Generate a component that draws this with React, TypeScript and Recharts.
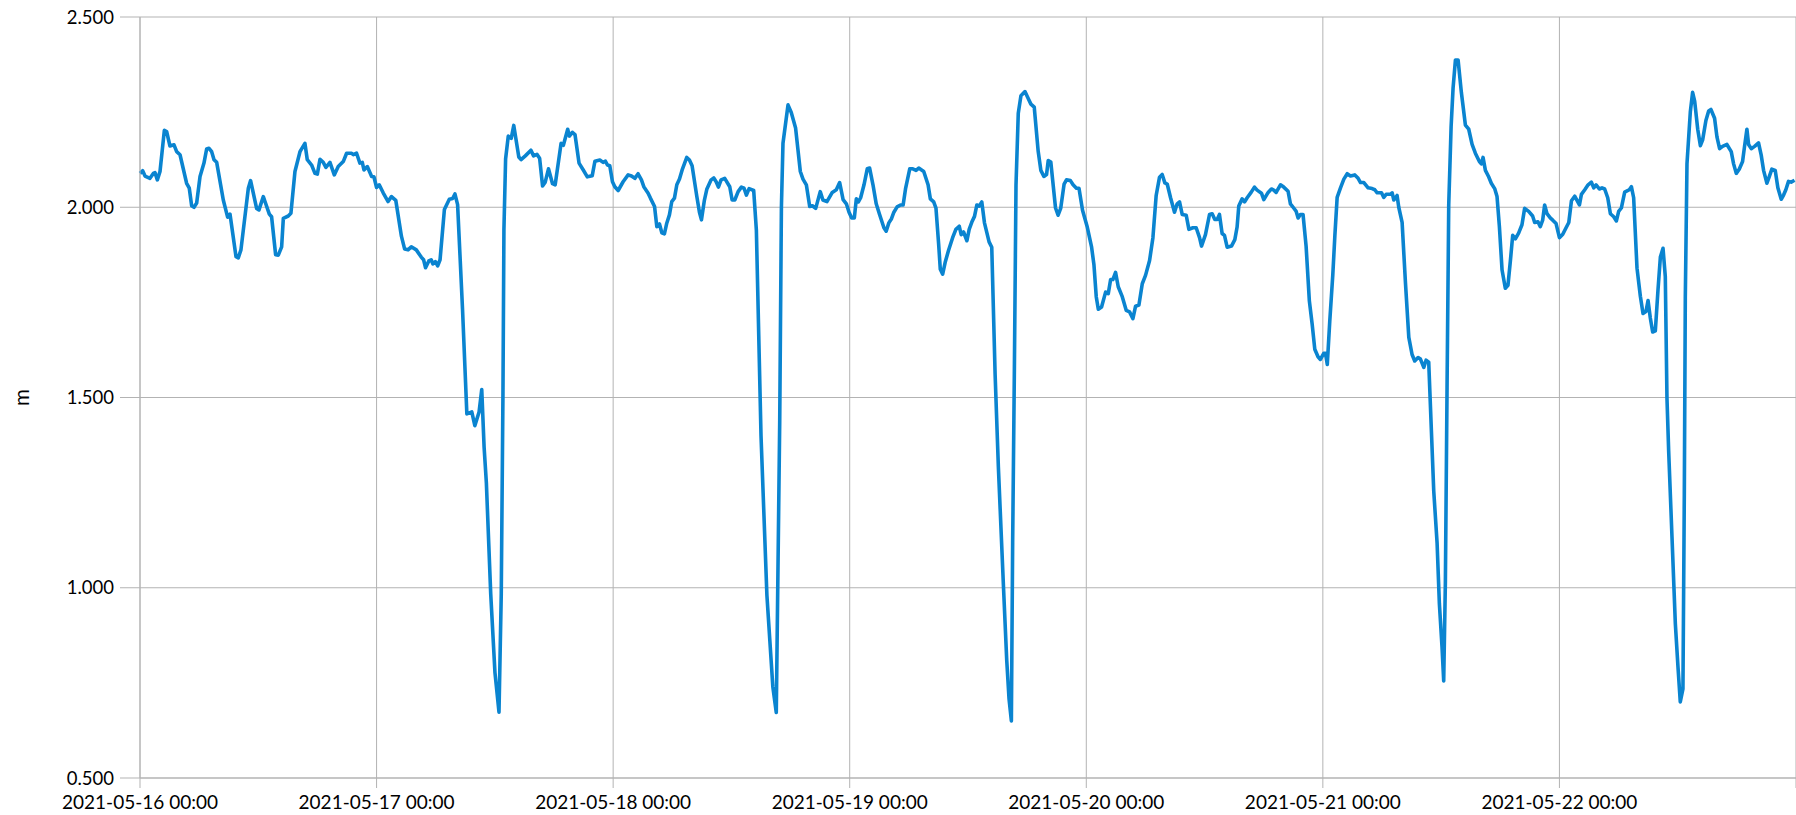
import React from 'react';
import { LineChart, Line, XAxis, YAxis, CartesianGrid } from 'recharts';

// hours since 2021-05-16 00:00
const hours = [
  0, 0.27, 0.51, 1.01, 1.35, 1.52, 1.76, 2.03, 2.47, 2.7, 3.04, 3.45, 3.72, 4.06, 4.73, 5.0, 5.24, 5.48, 5.75, 6.09,
  6.49, 6.76, 7.0, 7.27, 7.51, 7.78, 8.45, 8.89, 9.13, 9.74, 9.97, 10.24, 10.99, 11.22, 11.83, 12.07, 12.51, 12.68, 13.12, 13.35,
  13.76, 14.03, 14.37, 14.54, 15.04, 15.31, 15.72, 16.23, 16.73, 16.97, 17.41, 17.75, 17.99, 18.26, 18.59, 18.86, 19.27, 19.71, 20.11, 20.62,
  20.96, 21.47, 21.64, 21.97, 22.31, 22.55, 22.72, 23.06, 23.5, 23.73,
  24.0, 24.27, 24.67, 25.17, 25.51, 25.95, 26.52, 26.85, 27.19, 27.52, 28.03, 28.53, 28.77, 28.97, 29.3, 29.54, 29.71, 29.97, 30.2, 30.44,
  30.88, 31.38, 31.72, 31.95, 32.22, 32.72, 33.16, 33.66, 33.97, 34.4, 34.67, 34.91, 35.14, 35.58, 36.01, 36.42, 36.65, 36.82, 36.92, 37.09,
  37.36, 37.66, 37.92, 38.43, 38.66, 39.09, 39.66, 39.93, 40.27, 40.54, 40.84, 41.11, 41.44, 41.85, 42.12, 42.72, 42.95, 43.39, 43.56, 43.86,
  44.13, 44.54, 44.97, 45.38, 45.88, 46.15, 46.65, 46.98, 47.22, 47.42, 47.66,
  47.93, 48.17, 48.51, 49.01, 49.52, 49.86, 50.2, 50.53, 50.87, 51.11, 51.55, 51.78, 52.2, 52.43, 52.7, 52.94, 53.2, 53.44, 53.71, 53.95,
  54.22, 54.46, 54.73, 55.0, 55.47, 55.74, 56.01, 56.49, 56.76, 56.96, 57.26, 57.5, 57.94, 58.21, 58.45, 58.68, 58.95, 59.32, 59.83, 60.07,
  60.34, 60.68, 61.01, 61.28, 61.52, 61.79, 62.26, 62.53, 63.0, 63.6, 64.2, 64.55, 64.9, 65.07, 65.23, 65.74, 66.07, 66.51, 66.99, 67.26,
  67.6, 67.94, 68.21, 68.55, 69.01, 69.28, 69.69, 70.23, 70.64, 70.98,
  71.33, 71.66, 71.93, 72.2, 72.47, 72.67, 72.88, 73.11, 73.45, 73.78, 74.02, 74.36, 74.69, 75.03, 75.47, 75.7, 75.97, 76.24, 76.48, 76.81,
  77.15, 77.42, 77.66, 78.09, 78.4, 78.73, 79.0, 79.51, 79.95, 80.18, 80.52, 80.75, 81.02, 81.19, 81.43, 81.7, 82.03, 82.44, 82.77, 83.11,
  83.31, 83.55, 83.89, 84.12, 84.39, 84.66, 84.9, 85.13, 85.4, 85.67, 86.14, 86.41, 86.75, 87.08, 87.59, 87.93, 88.16, 88.4, 88.53, 88.7,
  88.87, 89.1, 89.37, 89.78, 90.05, 90.38, 90.72, 91.12, 91.39, 91.7, 91.97, 92.14, 92.4, 92.88, 93.14, 93.41, 93.75, 93.99, 94.39, 94.66,
  95.0, 95.26, 95.62,
  96.1, 96.54, 96.78, 97.01, 97.22, 97.55, 97.96, 98.23, 98.47, 98.7, 98.97, 99.24, 99.65, 100.05, 100.39, 100.73, 101.0, 101.34, 101.68, 102.01,
  102.42, 102.76, 103.09, 103.43, 103.7, 103.97, 104.21, 104.55, 104.95, 105.22, 105.46, 105.73, 106.14, 106.41, 106.81, 107.15, 107.49, 107.69, 108.09, 108.5,
  108.77, 109.04, 109.28, 109.51, 109.78, 110.02, 110.29, 110.73, 111.07, 111.3, 111.47, 111.81, 112.05, 112.32, 112.72, 113.06, 113.33, 113.77, 114.01, 114.45,
  114.78, 115.02, 115.26, 115.7, 116.03, 116.47, 116.71, 117.04, 117.28, 117.49, 117.72, 117.99, 118.3, 118.63, 118.91, 119.18, 119.51, 119.75,
  120.09, 120.27, 120.45, 120.7, 121.01, 121.22, 121.45, 121.79, 122.13, 122.47, 122.8, 123.24, 123.58, 123.82, 124.16, 124.59, 125.0, 125.27, 125.51, 125.95,
  126.18, 126.42, 126.86, 127.03, 127.2, 127.53, 127.7, 128.04, 128.38, 128.72, 129.05, 129.32, 129.66, 129.9, 130.24, 130.47, 130.74, 131.01, 131.25, 131.59,
  131.82, 132.09, 132.26, 132.43, 132.6, 132.77, 133.01, 133.21, 133.45, 133.72, 134.05, 134.46, 134.8, 135.14, 135.47, 135.88, 136.08, 136.25, 136.49, 136.82,
  137.09, 137.43, 137.67, 137.91, 138.18, 138.51, 138.78, 139.02, 139.26, 139.53, 139.86, 140.2, 140.47, 140.88, 141.28, 141.49, 141.82, 142.06, 142.3, 142.5,
  142.74, 143.07, 143.32, 143.66,
  144.0, 144.34, 144.61, 144.95, 145.22, 145.55, 146.03, 146.23, 146.57, 146.91, 147.24, 147.48, 147.72, 148.05, 148.32, 148.59, 148.9, 149.17, 149.51, 149.78,
  150.01, 150.28, 150.62, 150.86, 151.09, 151.3, 151.53, 151.87, 152.21, 152.48, 152.78, 152.99, 153.22, 153.46, 153.73, 154.0, 154.24, 154.51, 154.74, 154.91,
  155.08, 155.42, 155.76, 156.03, 156.26, 156.53, 156.67, 156.77, 156.94, 157.28, 157.51, 157.72, 158.03, 158.3, 158.53, 158.86, 159.14, 159.37, 159.74, 159.98,
  160.25, 160.55, 160.99, 161.43, 161.67, 161.94, 162.24, 162.58, 162.78, 163.02, 163.19, 163.46, 163.8, 164.2, 164.47, 164.71, 165.05, 165.28, 165.55, 165.89,
  166.16, 166.5, 166.74, 166.97, 167.24, 167.51, 167.85,
];

// water level, m
const level = [
  2.089, 2.096, 2.082, 2.076, 2.089, 2.091, 2.072, 2.094, 2.202, 2.199, 2.161, 2.164, 2.146, 2.138, 2.063, 2.05, 2.004, 2.0, 2.011, 2.081,
  2.116, 2.153, 2.155, 2.146, 2.125, 2.118, 2.019, 1.974, 1.982, 1.87, 1.867, 1.888, 2.05, 2.07, 1.997, 1.993, 2.028, 2.015, 1.982, 1.975,
  1.875, 1.874, 1.896, 1.971, 1.977, 1.984, 2.094, 2.146, 2.168, 2.125, 2.111, 2.089, 2.087, 2.126, 2.118, 2.105, 2.118, 2.085, 2.107, 2.12,
  2.142, 2.142, 2.138, 2.142, 2.116, 2.118, 2.098, 2.107, 2.081, 2.08,
  2.052, 2.059, 2.038, 2.015, 2.028, 2.018, 1.924, 1.89, 1.888, 1.896, 1.888, 1.869, 1.862, 1.841, 1.859, 1.862, 1.851, 1.857, 1.846, 1.862,
  1.994, 2.021, 2.023, 2.035, 2.007, 1.732, 1.457, 1.462, 1.426, 1.462, 1.521, 1.369, 1.275, 0.984, 0.777, 0.673, 0.984, 1.504, 1.94, 2.127,
  2.187, 2.181, 2.215, 2.132, 2.125, 2.135, 2.15, 2.135, 2.139, 2.129, 2.056, 2.066, 2.101, 2.062, 2.059, 2.168, 2.163, 2.205, 2.187, 2.197,
  2.191, 2.116, 2.098, 2.08, 2.083, 2.121, 2.124, 2.118, 2.121, 2.111, 2.109,
  2.067, 2.054, 2.044, 2.067, 2.085, 2.082, 2.076, 2.088, 2.072, 2.054, 2.037, 2.024, 2.002, 1.949, 1.956, 1.933, 1.93, 1.958, 1.98, 2.015,
  2.024, 2.059, 2.074, 2.098, 2.131, 2.124, 2.109, 2.028, 1.986, 1.967, 2.019, 2.047, 2.072, 2.077, 2.067, 2.053, 2.072, 2.076, 2.054, 2.019,
  2.019, 2.041, 2.053, 2.05, 2.032, 2.049, 2.044, 1.94, 1.4, 0.98, 0.74, 0.672, 1.44, 2.0, 2.168, 2.269, 2.249, 2.208, 2.094, 2.074,
  2.059, 2.002, 2.004, 1.997, 2.041, 2.019, 2.015, 2.039, 2.046, 2.065,
  2.02, 2.009, 1.987, 1.972, 1.972, 2.022, 2.014, 2.025, 2.059, 2.101, 2.103, 2.059, 2.009, 1.981, 1.946, 1.937, 1.959, 1.97, 1.987, 2.001,
  2.006, 2.006, 2.048, 2.101, 2.101, 2.097, 2.103, 2.094, 2.059, 2.022, 2.014, 1.998, 1.904, 1.837, 1.824, 1.857, 1.887, 1.92, 1.942, 1.95,
  1.928, 1.935, 1.912, 1.942, 1.961, 1.976, 2.006, 2.003, 2.014, 1.959, 1.909, 1.895, 1.561, 1.318, 1.008, 0.809, 0.709, 0.65, 1.118, 1.561,
  2.059, 2.247, 2.293, 2.304, 2.289, 2.271, 2.263, 2.147, 2.097, 2.081, 2.086, 2.123, 2.119, 1.998, 1.979, 1.998, 2.061, 2.072, 2.07, 2.059,
  2.05, 2.05, 1.992,
  1.948, 1.895, 1.848, 1.765, 1.732, 1.738, 1.777, 1.773, 1.81, 1.81, 1.829, 1.791, 1.765, 1.729, 1.725, 1.707, 1.74, 1.743, 1.799, 1.821,
  1.86, 1.92, 2.031, 2.079, 2.086, 2.064, 2.061, 2.025, 1.987, 2.009, 2.014, 1.981, 1.979, 1.942, 1.946, 1.946, 1.92, 1.898, 1.928, 1.981,
  1.983, 1.968, 1.968, 1.981, 1.931, 1.926, 1.895, 1.898, 1.915, 1.948, 2.003, 2.022, 2.014, 2.025, 2.039, 2.053, 2.045, 2.037, 2.02, 2.039,
  2.048, 2.045, 2.039, 2.059, 2.053, 2.042, 2.009, 1.998, 1.99, 1.972, 1.981, 1.981, 1.898, 1.754, 1.694, 1.627, 1.607, 1.6,
  1.616, 1.616, 1.587, 1.7, 1.823, 1.926, 2.026, 2.051, 2.074, 2.088, 2.082, 2.085, 2.076, 2.065, 2.065, 2.051, 2.049, 2.046, 2.038, 2.038,
  2.026, 2.034, 2.034, 2.038, 2.019, 2.031, 2.0, 1.96, 1.801, 1.658, 1.613, 1.596, 1.605, 1.601, 1.579, 1.598, 1.593, 1.413, 1.254, 1.117,
  0.958, 0.844, 0.755, 1.015, 1.527, 2.006, 2.211, 2.313, 2.387, 2.387, 2.302, 2.216, 2.205, 2.165, 2.142, 2.12, 2.114, 2.131, 2.097, 2.08,
  2.063, 2.049, 2.028, 1.949, 1.835, 1.787, 1.795, 1.858, 1.926, 1.917, 1.932, 1.954, 1.997, 1.989, 1.977, 1.96, 1.962, 1.949, 1.966, 2.006,
  1.983, 1.972, 1.966, 1.957,
  1.92, 1.929, 1.943, 1.96, 2.017, 2.029, 2.006, 2.034, 2.046, 2.059, 2.066, 2.051, 2.059, 2.048, 2.051, 2.048, 2.025, 1.983, 1.975, 1.964,
  1.989, 1.998, 2.04, 2.043, 2.046, 2.054, 2.025, 1.84, 1.766, 1.721, 1.726, 1.755, 1.709, 1.672, 1.675, 1.783, 1.869, 1.892, 1.818, 1.498,
  1.361, 1.133, 0.905, 0.791, 0.7, 0.734, 1.247, 1.761, 2.114, 2.251, 2.302, 2.279, 2.205, 2.162, 2.177, 2.228, 2.253, 2.257, 2.234, 2.185,
  2.154, 2.16, 2.165, 2.146, 2.114, 2.089, 2.1, 2.12, 2.16, 2.205, 2.165, 2.154, 2.16, 2.169, 2.137, 2.097, 2.063, 2.08, 2.1, 2.097,
  2.051, 2.021, 2.032, 2.046, 2.068, 2.066, 2.071,
];

const dayTicks = [0, 24, 48, 72, 96, 120, 144, 168];
const dayLabels = [
  '2021-05-16 00:00',
  '2021-05-17 00:00',
  '2021-05-18 00:00',
  '2021-05-19 00:00',
  '2021-05-20 00:00',
  '2021-05-21 00:00',
  '2021-05-22 00:00',
  '',
];
const levelTicks = [0.5, 1.0, 1.5, 2.0, 2.5];

const data = hours.map((h, i) => ({ h, v: level[i] }));

const GRID = '#b3b3b3';

const AxisTitle = ({ viewBox }: any) => {
  const x = viewBox.x + 21;
  const y = viewBox.y + viewBox.height / 2;
  return (
    <text
      x={x}
      y={y}
      transform={`rotate(-90 ${x} ${y})`}
      textAnchor="middle"
      dominantBaseline="central"
      fontFamily="Lato"
      fontSize={20.5}
      fill="#000"
    >
      m
    </text>
  );
};

export default function App() {
  return (
    <div style={{ position: 'absolute', left: 0, top: 0, width: 1796, height: 815, background: '#fff' }}>
      <LineChart width={1796} height={815} data={data} margin={{ top: 17, right: 0, bottom: 0, left: 0 }}>
        <CartesianGrid stroke={GRID} strokeWidth={1} />
        <XAxis
          dataKey="h"
          type="number"
          domain={[0, 168]}
          ticks={dayTicks}
          interval={0}
          height={37}
          tickSize={10}
          tickMargin={8}
          tickFormatter={(v) => dayLabels[dayTicks.indexOf(v)] ?? ''}
          tick={{ fill: '#000', fontFamily: 'Lato', fontSize: 19 }}
          axisLine={{ stroke: GRID }}
          tickLine={{ stroke: GRID }}
        />
        <YAxis
          type="number"
          domain={[0.5, 2.5]}
          ticks={levelTicks}
          interval={0}
          width={140}
          tickSize={20}
          tickMargin={6}
          tickFormatter={(v) => v.toFixed(3)}
          tick={{ fill: '#000', fontFamily: 'Lato', fontSize: 18.5 }}
          axisLine={{ stroke: GRID }}
          tickLine={{ stroke: GRID }}
          label={{ content: <AxisTitle /> }}
        />
        <Line
          type="linear"
          dataKey="v"
          stroke="#0a84d0"
          strokeWidth={3.6}
          strokeLinejoin="round"
          dot={false}
          activeDot={false}
          isAnimationActive={false}
        />
      </LineChart>
    </div>
  );
}
